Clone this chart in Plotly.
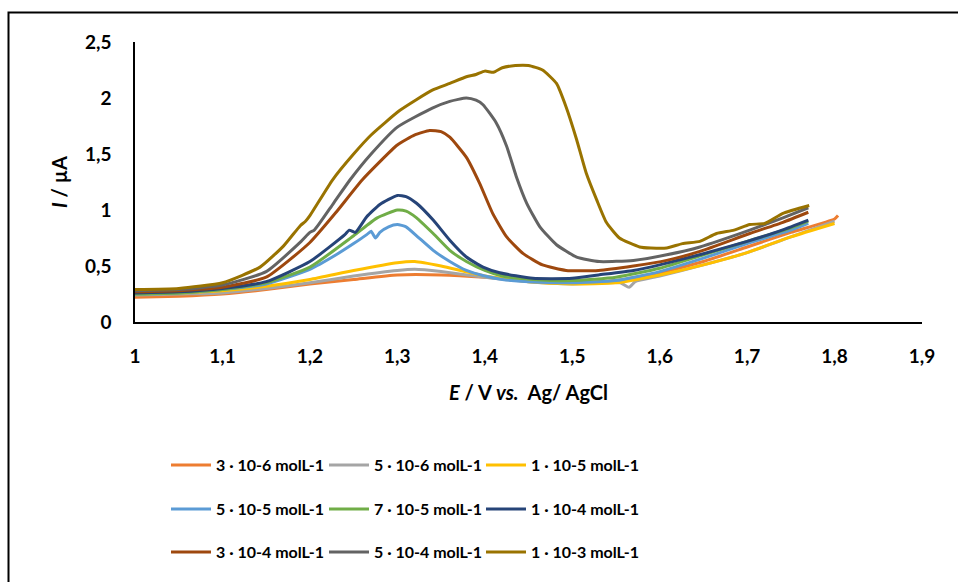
import plotly.graph_objects as go

labels = ["3 · 10-6 molL-1", "5 · 10-6 molL-1", "1 · 10-5 molL-1",
          "5 · 10-5 molL-1", "7 · 10-5 molL-1", "1 · 10-4 molL-1",
          "3 · 10-4 molL-1", "5 · 10-4 molL-1", "1 · 10-3 molL-1"]
colors = ["#ED7D31", "#A5A5A5", "#FFC000", "#5B9BD5", "#70AD47", "#264478",
          "#9E480E", "#636363", "#997300"]

E_3e6 = [1.0, 1.05, 1.1, 1.15, 1.2, 1.25, 1.3, 1.35, 1.4, 1.45, 1.5, 1.55, 1.6, 1.65, 1.7, 1.75, 1.8, 1.804]
I_3e6 = [0.22, 0.23, 0.25, 0.29, 0.34, 0.38, 0.42, 0.42, 0.40, 0.37, 0.35, 0.37, 0.44, 0.54, 0.67, 0.80, 0.92, 0.95]

E_5e6 = [1.0, 1.05, 1.1, 1.15, 1.2, 1.25, 1.3, 1.32, 1.35, 1.4, 1.45, 1.5, 1.555, 1.565, 1.572, 1.6, 1.65, 1.7, 1.75, 1.8]
I_5e6 = [0.24, 0.25, 0.26, 0.30, 0.35, 0.41, 0.46, 0.47, 0.45, 0.40, 0.36, 0.34, 0.35, 0.31, 0.36, 0.41, 0.51, 0.62, 0.76, 0.90]

E_1e5 = [1.0, 1.05, 1.1, 1.15, 1.2, 1.25, 1.3, 1.32, 1.35, 1.4, 1.45, 1.5, 1.55, 1.6, 1.65, 1.7, 1.75, 1.8]
I_1e5 = [0.25, 0.26, 0.28, 0.32, 0.38, 0.46, 0.53, 0.54, 0.50, 0.41, 0.36, 0.34, 0.35, 0.42, 0.51, 0.62, 0.76, 0.88]

E_5e5 = [1.0, 1.05, 1.1, 1.15, 1.2, 1.23, 1.25, 1.265, 1.27, 1.275, 1.28, 1.29, 1.3, 1.31, 1.322, 1.341, 1.36, 1.379, 1.4, 1.42, 1.45, 1.5, 1.55, 1.6, 1.65, 1.7, 1.75, 1.77]
I_5e5 = [0.25, 0.26, 0.29, 0.34, 0.47, 0.60, 0.70, 0.78, 0.81, 0.75, 0.80, 0.85, 0.87, 0.85, 0.77, 0.64, 0.54, 0.46, 0.41, 0.38, 0.36, 0.35, 0.37, 0.45, 0.57, 0.70, 0.82, 0.88]

E_7e5 = [1.0, 1.05, 1.1, 1.15, 1.2, 1.25, 1.277, 1.3, 1.31, 1.322, 1.341, 1.36, 1.379, 1.4, 1.42, 1.455, 1.5, 1.55, 1.6, 1.65, 1.7, 1.75, 1.77]
I_7e5 = [0.25, 0.26, 0.29, 0.35, 0.49, 0.77, 0.93, 1.00, 0.99, 0.93, 0.79, 0.64, 0.54, 0.46, 0.41, 0.38, 0.37, 0.40, 0.48, 0.60, 0.72, 0.84, 0.90]

E_1e4 = [1.0, 1.05, 1.1, 1.15, 1.2, 1.24, 1.245, 1.252, 1.265, 1.28, 1.3, 1.31, 1.322, 1.341, 1.36, 1.379, 1.398, 1.417, 1.455, 1.5, 1.53, 1.57, 1.6, 1.65, 1.7, 1.74, 1.77]
I_1e4 = [0.26, 0.27, 0.30, 0.36, 0.54, 0.78, 0.82, 0.80, 0.94, 1.05, 1.13, 1.12, 1.06, 0.91, 0.73, 0.58, 0.49, 0.44, 0.39, 0.39, 0.42, 0.46, 0.51, 0.61, 0.72, 0.82, 0.91]

E_3e4 = [1.0, 1.05, 1.1, 1.15, 1.2, 1.23, 1.26, 1.3, 1.32, 1.337, 1.35, 1.36, 1.379, 1.394, 1.409, 1.425, 1.444, 1.466, 1.493, 1.53, 1.57, 1.608, 1.646, 1.703, 1.741, 1.77]
I_3e4 = [0.27, 0.28, 0.31, 0.40, 0.71, 0.98, 1.27, 1.58, 1.67, 1.71, 1.70, 1.65, 1.47, 1.24, 0.97, 0.76, 0.61, 0.51, 0.46, 0.46, 0.50, 0.55, 0.63, 0.79, 0.89, 0.98]

E_5e4 = [1.0, 1.05, 1.1, 1.15, 1.19, 1.2, 1.205, 1.227, 1.246, 1.27, 1.3, 1.34, 1.36, 1.379, 1.39, 1.398, 1.413, 1.425, 1.436, 1.448, 1.463, 1.482, 1.505, 1.531, 1.57, 1.608, 1.646, 1.703, 1.741, 1.77]
I_5e4 = [0.28, 0.29, 0.33, 0.45, 0.72, 0.80, 0.82, 1.06, 1.27, 1.50, 1.74, 1.91, 1.97, 2.00, 1.98, 1.94, 1.78, 1.57, 1.30, 1.06, 0.85, 0.69, 0.58, 0.54, 0.55, 0.60, 0.67, 0.82, 0.93, 1.02]

E_1e3 = [1.0, 1.05, 1.1, 1.143, 1.17, 1.189, 1.195, 1.2, 1.226, 1.25, 1.27, 1.303, 1.34, 1.36, 1.379, 1.39, 1.4, 1.41, 1.42, 1.435, 1.45, 1.466, 1.482, 1.493, 1.505, 1.516, 1.528, 1.539, 1.554, 1.577, 1.59, 1.608, 1.626, 1.646, 1.665, 1.685, 1.703, 1.72, 1.741, 1.771]
I_1e3 = [0.29, 0.30, 0.35, 0.49, 0.68, 0.86, 0.90, 0.95, 1.27, 1.50, 1.67, 1.89, 2.07, 2.13, 2.19, 2.21, 2.24, 2.23, 2.27, 2.29, 2.29, 2.25, 2.13, 1.92, 1.63, 1.33, 1.09, 0.89, 0.75, 0.67, 0.66, 0.66, 0.70, 0.72, 0.79, 0.82, 0.87, 0.88, 0.97, 1.04]

series_E = [E_3e6, E_5e6, E_1e5, E_5e5, E_7e5, E_1e4, E_3e4, E_5e4, E_1e3]
series_I = [I_3e6, I_5e6, I_1e5, I_5e5, I_7e5, I_1e4, I_3e4, I_5e4, I_1e3]

FONT = "Lato"
fig = go.Figure()
legend_ids = ["legend"] + ["legend%d" % i for i in range(2, 10)]
for k, (lab, col, ex, iy) in enumerate(zip(labels, colors, series_E, series_I)):
    fig.add_trace(go.Scatter(
        x=ex, y=iy, mode="lines", name=lab,
        line=dict(color=col, width=3, shape="spline", smoothing=0.5),
        legend=legend_ids[k],
    ))

def px_x(p):
    return (p - 135) / 787.0

def px_y(p):
    return (322 - p) / 280.0

leg_common = dict(orientation="h", xanchor="left", yanchor="middle",
                  font=dict(family=FONT, size=16, color="#000000", weight="bold"),
                  bgcolor="rgba(0,0,0,0)", itemwidth=40)

col_x = [166, 324, 481]
row_y = [465, 509, 552]
legends = {}
for k, lid in enumerate(legend_ids):
    legends[lid] = dict(x=px_x(col_x[k % 3]), y=px_y(row_y[k // 3]), **leg_common)

fig.update_layout(
    width=958, height=582,
    margin=dict(l=135, r=36, t=42, b=260),
    paper_bgcolor="white", plot_bgcolor="white",
    separators=", ",
    font=dict(family=FONT, color="#000000"),
    showlegend=True,
    xaxis=dict(range=[1, 1.9], dtick=0.1, tick0=1, showgrid=False, zeroline=False,
               showline=True, linecolor="#000000", linewidth=1.5,
               ticks="outside", ticklen=16, tickcolor="rgba(0,0,0,0)",
               tickfont=dict(family=FONT, size=19, color="#000000", weight="bold"),
               title=dict(text="<i>E</i> / V <i>vs.</i>  Ag/ AgCl",
                          font=dict(family=FONT, size=20, color="#000000", weight="bold"),
                          standoff=20)),
    yaxis=dict(range=[0, 2.5], dtick=0.5, tick0=0, showgrid=False, zeroline=False,
               showline=True, linecolor="#000000", linewidth=1.5,
               ticks="outside", ticklen=18, tickcolor="rgba(0,0,0,0)",
               tickfont=dict(family=FONT, size=19, color="#000000", weight="bold"),
               title=dict(text="<i>I</i> / µA",
                          font=dict(family=FONT, size=20, color="#000000", weight="bold"),
                          standoff=12)),
    shapes=[dict(type="rect", xref="paper", yref="paper",
                 x0=px_x(8.5), x1=px_x(975), y0=px_y(600), y1=px_y(12.5),
                 line=dict(color="#000000", width=2), fillcolor="rgba(0,0,0,0)",
                 layer="above")],
)
fig.update_layout(**legends)

fig.write_html("out.html")
